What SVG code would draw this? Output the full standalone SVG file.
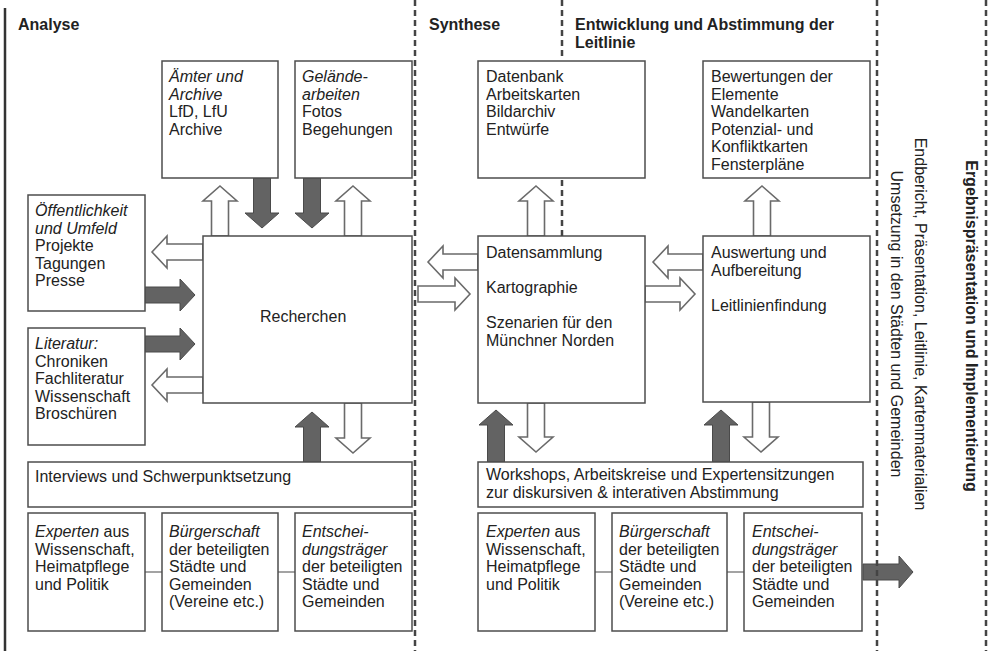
<svg xmlns="http://www.w3.org/2000/svg" width="989" height="651" viewBox="0 0 989 651">
<style>
.bg{fill:#fff}
.box{fill:#fff;stroke:#4d4d4d;stroke-width:1.5}
.t{font-family:"Liberation Sans",Arial,Helvetica,sans-serif;font-size:16px;fill:#222}
.i{font-style:italic}
.h{font-weight:bold}
.hol{fill:#fff;stroke:#6a6a6a;stroke-width:1.6;stroke-linejoin:miter}
.dark{fill:#636363;stroke:#4a4a4a;stroke-width:1}
.dash{stroke:#444;stroke-width:2.5;stroke-dasharray:6 4;fill:none}
.solid{stroke:#333;stroke-width:2.5;fill:none}
.conn{stroke:#666;stroke-width:1.2;fill:none}
</style>
<rect class="bg" x="0" y="0" width="989" height="651"/>

<g id="connectors">
  <polygon class="hol" points="220,186 237,201 228.5,201 228.5,236 211.5,236 211.5,201 203,201"/>
  <polygon class="dark" points="253.5,178 270.5,178 270.5,213 279,213 262,228 245,213 253.5,213"/>
  <polygon class="dark" points="303.5,178 320.5,178 320.5,213 329,213 312,228 295,213 303.5,213"/>
  <polygon class="hol" points="353,186 370,201 361.5,201 361.5,236 344.5,236 344.5,201 336,201"/>
  <polygon class="hol" points="152,252 167,236 167,244 203,244 203,260 167,260 167,268"/>
  <polygon class="dark" points="145,287 180,287 180,279 195,295 180,311 180,303 145,303"/>
  <polygon class="dark" points="145,336 180,336 180,328 195,344 180,360 180,352 145,352"/>
  <polygon class="hol" points="152,385 167,369 167,377 203,377 203,393 167,393 167,401"/>
  <polygon class="dark" points="312,412 329,427 320.5,427 320.5,462 303.5,462 303.5,427 295,427"/>
  <polygon class="hol" points="344.5,403 361.5,403 361.5,438 370,438 353,453 336,438 344.5,438"/>
  <polygon class="hol" points="536,186 553,201 544.5,201 544.5,236 527.5,236 527.5,201 519,201"/>
  <polygon class="hol" points="762,186 779,201 770.5,201 770.5,236 753.5,236 753.5,201 745,201"/>
  <polygon class="hol" points="428,262 443,246 443,254 478,254 478,270 443,270 443,278"/>
  <polygon class="hol" points="418,286 455,286 455,278 470,294 455,310 455,302 418,302"/>
  <polygon class="hol" points="653,262 668,246 668,254 703,254 703,270 668,270 668,278"/>
  <polygon class="hol" points="645,286 680,286 680,278 695,294 680,310 680,302 645,302"/>
  <polygon class="dark" points="496,410 513,425 504.5,425 504.5,462 487.5,462 487.5,425 479,425"/>
  <polygon class="dark" points="721,410 738,425 729.5,425 729.5,462 712.5,462 712.5,425 704,425"/>
  <polygon class="hol" points="527.5,403 544.5,403 544.5,437 553,437 536,452 519,437 527.5,437"/>
  <polygon class="hol" points="752.5,402 769.5,402 769.5,437 778,437 761,452 744,437 752.5,437"/>
  <polygon class="dark" points="863,564 899,564 899,556 913,572 899,588 899,580 863,580"/>
  <line class="conn" x1="145" y1="572" x2="162" y2="572"/>
  <line class="conn" x1="278" y1="572" x2="295" y2="572"/>
  <line class="conn" x1="595" y1="572" x2="612" y2="572"/>
  <line class="conn" x1="727" y1="572" x2="744" y2="572"/>
</g>

<g id="aemter">
  <rect class="box" x="162" y="61" width="116" height="117"/>
  <text class="t"><tspan class="i" x="169" y="82">Ämter und</tspan><tspan class="i" x="169" y="99.6">Archive</tspan><tspan x="169" y="117.2">LfD, LfU</tspan><tspan x="169" y="134.8">Archive</tspan></text>
</g>
<g id="gelaende">
  <rect class="box" x="295" y="61" width="117" height="117"/>
  <text class="t"><tspan class="i" x="302" y="82">Gelände-</tspan><tspan class="i" x="302" y="99.6">arbeiten</tspan><tspan x="302" y="117.2">Fotos</tspan><tspan x="302" y="134.8">Begehungen</tspan></text>
</g>
<g id="oeffentlichkeit">
  <rect class="box" x="28" y="195" width="117" height="116"/>
  <text class="t"><tspan class="i" x="35" y="216">Öffentlichkeit</tspan><tspan class="i" x="35" y="233.6">und Umfeld</tspan><tspan x="35" y="251.2">Projekte</tspan><tspan x="35" y="268.8">Tagungen</tspan><tspan x="35" y="286.4">Presse</tspan></text>
</g>
<g id="literatur">
  <rect class="box" x="28" y="328" width="117" height="117"/>
  <text class="t"><tspan class="i" x="35" y="349">Literatur:</tspan><tspan x="35" y="366.6">Chroniken</tspan><tspan x="35" y="384.2">Fachliteratur</tspan><tspan x="35" y="401.8">Wissenschaft</tspan><tspan x="35" y="419.4">Broschüren</tspan></text>
</g>
<g id="recherchen">
  <rect class="box" x="203" y="236" width="209" height="167"/>
  <text class="t" x="260" y="322">Recherchen</text>
</g>
<g id="interviews">
  <rect class="box" x="28" y="462" width="384" height="45"/>
  <text class="t" x="35" y="482">Interviews und Schwerpunktsetzung</text>
</g>
<g id="experten1">
  <rect class="box" x="28" y="513" width="117" height="118"/>
  <text class="t"><tspan x="35" y="537"><tspan class="i">Experten</tspan> aus</tspan><tspan x="35" y="554.5">Wissenschaft,</tspan><tspan x="35" y="572">Heimatpflege</tspan><tspan x="35" y="589.5">und Politik</tspan></text>
</g>
<g id="buergerschaft1">
  <rect class="box" x="162" y="513" width="116" height="118"/>
  <text class="t"><tspan class="i" x="169" y="537">Bürgerschaft</tspan><tspan x="169" y="554.5">der beteiligten</tspan><tspan x="169" y="572">Städte und</tspan><tspan x="169" y="589.5">Gemeinden</tspan><tspan x="169" y="607">(Vereine etc.)</tspan></text>
</g>
<g id="entscheider1">
  <rect class="box" x="295" y="513" width="117" height="118"/>
  <text class="t"><tspan class="i" x="302" y="537">Entschei-</tspan><tspan class="i" x="302" y="554.5">dungsträger</tspan><tspan x="302" y="572">der beteiligten</tspan><tspan x="302" y="589.5">Städte und</tspan><tspan x="302" y="607">Gemeinden</tspan></text>
</g>

<g id="datenbank">
  <rect class="box" x="478" y="61" width="167" height="117"/>
  <text class="t"><tspan x="486" y="82">Datenbank</tspan><tspan x="486" y="99.6">Arbeitskarten</tspan><tspan x="486" y="117.2">Bildarchiv</tspan><tspan x="486" y="134.8">Entwürfe</tspan></text>
</g>
<g id="bewertungen">
  <rect class="box" x="703" y="61" width="167" height="117"/>
  <text class="t"><tspan x="711" y="82">Bewertungen der</tspan><tspan x="711" y="99.6">Elemente</tspan><tspan x="711" y="117.2">Wandelkarten</tspan><tspan x="711" y="134.8">Potenzial- und</tspan><tspan x="711" y="152.4">Konfliktkarten</tspan><tspan x="711" y="170">Fensterpläne</tspan></text>
</g>
<g id="datensammlung">
  <rect class="box" x="478" y="236" width="167" height="167"/>
  <text class="t"><tspan x="486" y="258">Datensammlung</tspan><tspan x="486" y="293">Kartographie</tspan><tspan x="486" y="328">Szenarien für den</tspan><tspan x="486" y="345.6">Münchner Norden</tspan></text>
</g>
<g id="auswertung">
  <rect class="box" x="703" y="236" width="167" height="166"/>
  <text class="t"><tspan x="711" y="258">Auswertung und</tspan><tspan x="711" y="275.6">Aufbereitung</tspan><tspan x="711" y="310.8">Leitlinienfindung</tspan></text>
</g>
<g id="workshops">
  <rect class="box" x="478" y="462" width="385" height="45"/>
  <text class="t"><tspan x="486" y="480">Workshops, Arbeitskreise und Expertensitzungen</tspan><tspan x="486" y="497.6">zur diskursiven &amp; interativen Abstimmung</tspan></text>
</g>
<g id="experten2">
  <rect class="box" x="478" y="513" width="117" height="118"/>
  <text class="t"><tspan x="486" y="537"><tspan class="i">Experten</tspan> aus</tspan><tspan x="486" y="554.5">Wissenschaft,</tspan><tspan x="486" y="572">Heimatpflege</tspan><tspan x="486" y="589.5">und Politik</tspan></text>
</g>
<g id="buergerschaft2">
  <rect class="box" x="612" y="513" width="115" height="118"/>
  <text class="t"><tspan class="i" x="619" y="537">Bürgerschaft</tspan><tspan x="619" y="554.5">der beteiligten</tspan><tspan x="619" y="572">Städte und</tspan><tspan x="619" y="589.5">Gemeinden</tspan><tspan x="619" y="607">(Vereine etc.)</tspan></text>
</g>
<g id="entscheider2">
  <rect class="box" x="744" y="513" width="118" height="118"/>
  <text class="t"><tspan class="i" x="752" y="537">Entschei-</tspan><tspan class="i" x="752" y="554.5">dungsträger</tspan><tspan x="752" y="572">der beteiligten</tspan><tspan x="752" y="589.5">Städte und</tspan><tspan x="752" y="607">Gemeinden</tspan></text>
</g>

<g id="phases">
  <line class="solid" x1="5" y1="8" x2="5" y2="651"/>
  <line class="dash" x1="415" y1="0" x2="415" y2="651"/>
  <line class="dash" x1="562" y1="0" x2="562" y2="60"/>
  <line class="dash" x1="562" y1="180" x2="562" y2="236"/>
  <line class="dash" x1="877" y1="0" x2="877" y2="651"/>
  <line class="dash" x1="986" y1="0" x2="986" y2="651"/>
  <text class="t h" x="18" y="30">Analyse</text>
  <text class="t h" x="429" y="30">Synthese</text>
  <text class="t h"><tspan x="575" y="30">Entwicklung und Abstimmung der</tspan><tspan x="575" y="48">Leitlinie</tspan></text>
  <text class="t h" text-anchor="middle" transform="translate(966,326) rotate(90)">Ergebnispräsentation und Implementierung</text>
  <text class="t" text-anchor="middle" transform="translate(915,324) rotate(90)">Endbericht, Präsentation, Leitlinie, Kartenmaterialien</text>
  <text class="t" text-anchor="middle" transform="translate(891,324) rotate(90)">Umsetzung in den Städten und Gemeinden</text>
</g>
</svg>
